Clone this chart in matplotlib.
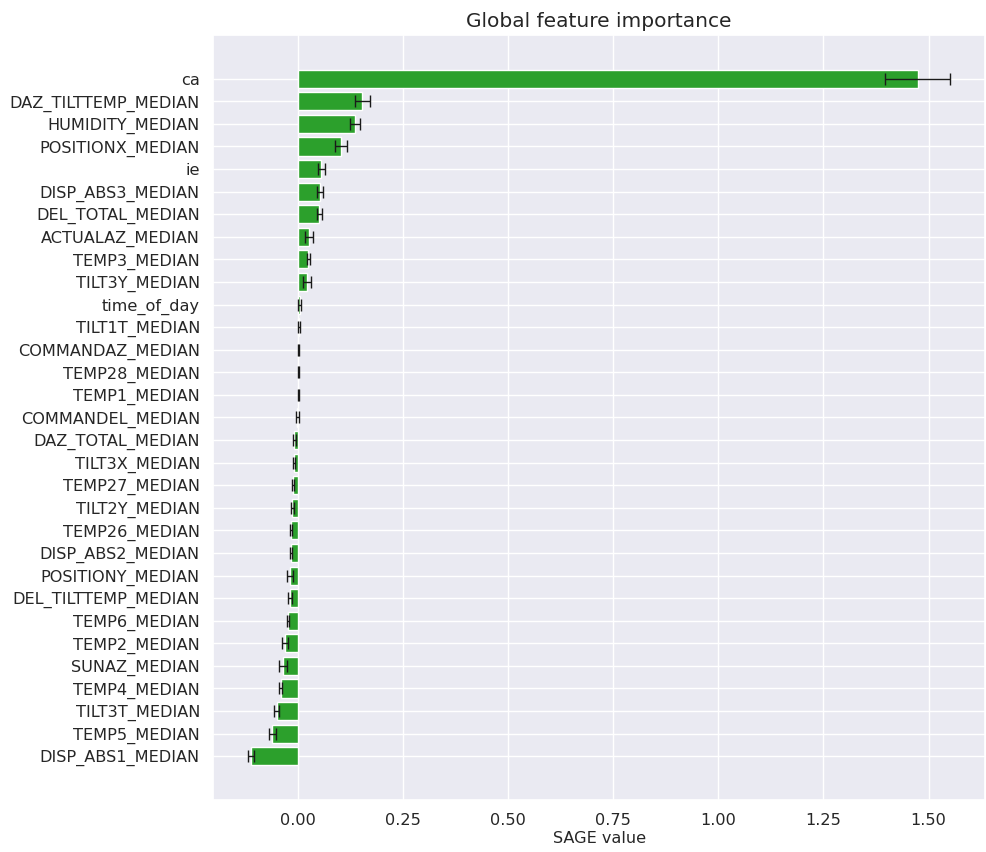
import numpy as np
import matplotlib
matplotlib.use("Agg")
import matplotlib.pyplot as plt
import seaborn as sns

# ─── Data (top to bottom) ───────────────────────────────────────────
features = [
    "ca", "DAZ_TILTTEMP_MEDIAN", "HUMIDITY_MEDIAN", "POSITIONX_MEDIAN", "ie",
    "DISP_ABS3_MEDIAN", "DEL_TOTAL_MEDIAN", "ACTUALAZ_MEDIAN", "TEMP3_MEDIAN",
    "TILT3Y_MEDIAN", "time_of_day", "TILT1T_MEDIAN", "COMMANDAZ_MEDIAN",
    "TEMP28_MEDIAN", "TEMP1_MEDIAN", "COMMANDEL_MEDIAN", "DAZ_TOTAL_MEDIAN",
    "TILT3X_MEDIAN", "TEMP27_MEDIAN", "TILT2Y_MEDIAN", "TEMP26_MEDIAN",
    "DISP_ABS2_MEDIAN", "POSITIONY_MEDIAN", "DEL_TILTTEMP_MEDIAN", "TEMP6_MEDIAN",
    "TEMP2_MEDIAN", "SUNAZ_MEDIAN", "TEMP4_MEDIAN", "TILT3T_MEDIAN",
    "TEMP5_MEDIAN", "DISP_ABS1_MEDIAN",
]
sage_values = [
    1.474, 0.152, 0.135, 0.102, 0.055,
    0.052, 0.050, 0.026, 0.024,
    0.021, 0.003, 0.002, 0.0003,
    0.0003, 0.0002, -0.002, -0.009,
    -0.010, -0.012, -0.014, -0.017,
    -0.017, -0.020, -0.020, -0.024,
    -0.031, -0.037, -0.042, -0.051,
    -0.062, -0.112,
]
sage_std = [
    0.077, 0.018, 0.012, 0.015, 0.008,
    0.007, 0.006, 0.009, 0.003,
    0.009, 0.004, 0.003, 0.001,
    0.001, 0.001, 0.003, 0.003,
    0.003, 0.002, 0.003, 0.003,
    0.003, 0.007, 0.005, 0.003,
    0.007, 0.009, 0.004, 0.006,
    0.008, 0.007,
]

sns.set_theme(style="darkgrid")

fig, ax = plt.subplots(figsize=(9.87, 8.52), dpi=100)
fig.subplots_adjust(left=0.216, right=0.998, top=0.959, bottom=0.061)

ypos = np.arange(len(features))
ax.barh(ypos, sage_values, height=0.8, color="tab:green",
        xerr=sage_std, capsize=4,
        error_kw=dict(ecolor="0.1", elinewidth=1.0, capthick=1.0))
ax.set_yticks(ypos)
ax.set_yticklabels(features, fontsize=11.6)
ax.invert_yaxis()
ax.tick_params(axis="x", labelsize=11.6)
ax.set_xlabel("SAGE value", fontsize=11.6, labelpad=2)
ax.set_title("Global feature importance", fontsize=14.5)

fig.savefig("out.png", dpi=100)
